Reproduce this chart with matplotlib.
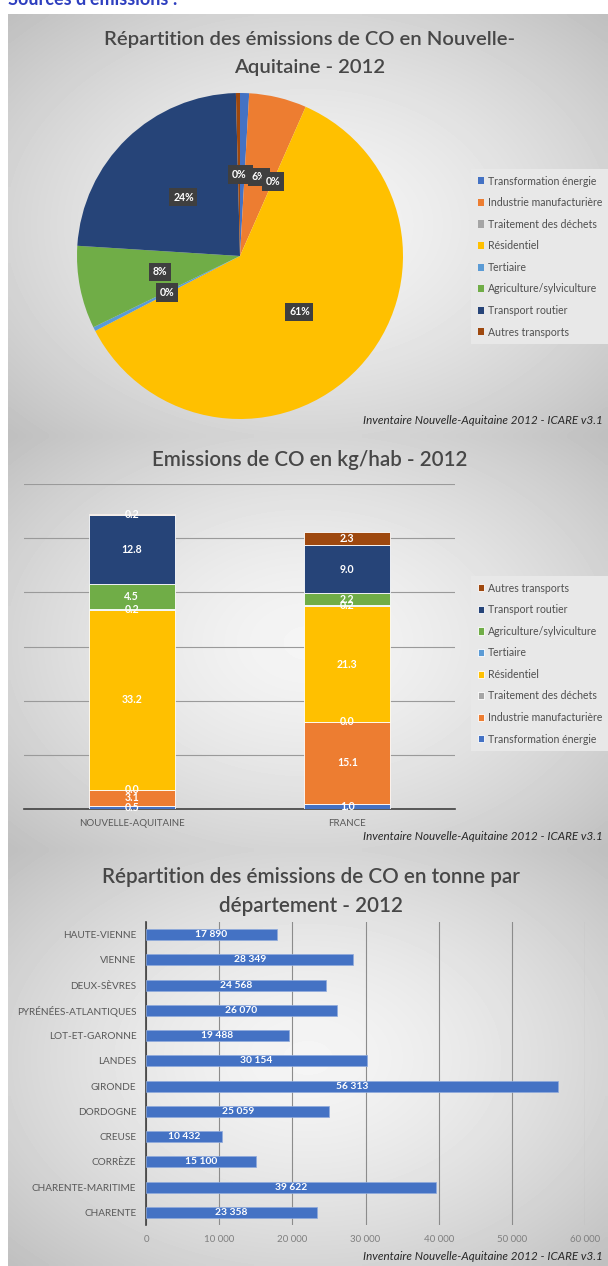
import numpy as np
import matplotlib
matplotlib.use("Agg")
import matplotlib.pyplot as plt

plt.rcParams['font.family'] = ['Lato', 'DejaVu Sans']

# --- data ---
sectors = ['Transformation énergie', 'Industrie manufacturière', 'Traitement des déchets',
           'Résidentiel', 'Tertiaire', 'Agriculture/sylviculture', 'Transport routier',
           'Autres transports']
colors = ['#4472C4', '#ED7D31', '#A5A5A5', '#FFC000', '#5B9BD5', '#70AD47', '#264478', '#9E480E']

# share of regional CO emissions (%), 2012
pie_share = [0.9, 5.7, 0.0, 60.8, 0.4, 8.2, 23.6, 0.4]

zones = ['NOUVELLE-AQUITAINE', 'FRANCE']
kg_hab_na = [0.5, 3.1, 0.0, 33.2, 0.2, 4.5, 12.8, 0.2]
kg_hab_fr = [1.0, 15.1, 0.0, 21.3, 0.2, 2.2, 9.0, 2.3]

departements = ['CHARENTE', 'CHARENTE-MARITIME', 'CORRÈZE', 'CREUSE', 'DORDOGNE', 'GIRONDE',
                'LANDES', 'LOT-ET-GARONNE', 'PYRÉNÉES-ATLANTIQUES', 'DEUX-SÈVRES', 'VIENNE',
                'HAUTE-VIENNE']
tonnes = [23358, 39622, 15100, 10432, 25059, 56313, 30154, 19488, 26070, 24568, 28349, 17890]

source = 'Inventaire Nouvelle-Aquitaine 2012 - ICARE v3.1'
grey_txt = '#595959'
title_col = '#474747'

W, H = 608, 1266
fig = plt.figure(figsize=(W / 100, H / 100), dpi=100)


def rect(x0, y0, x1, y1):
    return [x0 / W, 1 - y1 / H, (x1 - x0) / W, (y1 - y0) / H]


def fy(y):
    return 1 - y / H


def panel(y0, y1):
    ax = fig.add_axes(rect(8, y0, W, y1), zorder=0)
    yy, xx = np.mgrid[-1:1:120j, -1:1:120j]
    r = np.sqrt(xx ** 2 + yy ** 2) / np.sqrt(2)
    ax.imshow(0.96 - 0.21 * r ** 1.5, cmap='gray', vmin=0, vmax=1, aspect='auto',
              extent=(0, 1, 0, 1), interpolation='bilinear')
    ax.axis('off')


def legend(handles, labels, top):
    leg = fig.legend(handles, labels, loc='upper left', bbox_to_anchor=(466 / W, fy(top)),
                     bbox_transform=fig.transFigure, fontsize=7.6, labelcolor='#505050',
                     handlelength=0.65, handleheight=0.65, handletextpad=0.3, labelspacing=1.0,
                     borderpad=0.6, fancybox=False, framealpha=1, facecolor='#E8E8E8',
                     edgecolor='none')
    leg.set_zorder(3)
    return leg


panel(14, 436)
panel(436, 850)
panel(850, H)

fig.text(8 / W, fy(5), "Sources d'émissions :", color='#2E3FBF', fontsize=13,
         fontweight='bold', ha='left', va='baseline')

# ---------- pie ----------
fig.text(310 / W, fy(40), 'Répartition des émissions de CO en Nouvelle-', ha='center', va='center',
         fontsize=14.6, fontweight='semibold', color=title_col)
fig.text(310 / W, fy(68), 'Aquitaine - 2012', ha='center', va='center', fontsize=14.6,
         fontweight='semibold', color=title_col)

ax1 = fig.add_axes(rect(77, 93, 403, 419), zorder=2)
wedges, _, autotexts = ax1.pie(pie_share, colors=colors, startangle=90, counterclock=False,
                               radius=1, autopct=lambda p: f'{p:.0f}%', pctdistance=0.5,
                               wedgeprops=dict(linewidth=0))
for t in autotexts:
    t.set_color('white')
    t.set_fontsize(7.6)
    t.set_fontweight('bold')
    t.set_bbox(dict(boxstyle='square,pad=0.35', fc='#3F3F3F', ec='none'))
ax1.set_xlim(-1, 1)
ax1.set_ylim(-1, 1)
ax1.set_aspect('equal')

legend(wedges, sectors, 164)
fig.text(603 / W, fy(420), source, ha='right', va='center', fontsize=8.4, style='italic',
         color='#262626')

# ---------- stacked bars ----------
fig.text(310 / W, fy(460), 'Emissions de CO en kg/hab - 2012', ha='center', va='center',
         fontsize=14.8, fontweight='semibold', color=title_col)
ax2 = fig.add_axes(rect(24, 484, 455, 809), zorder=2)
ax2.set_facecolor('none')
x = np.arange(len(zones))
bottom = np.zeros(len(zones))
handles = []
for i, name in enumerate(sectors):
    vals = np.array([kg_hab_na[i], kg_hab_fr[i]])
    bars = ax2.bar(x, vals, width=0.4, bottom=bottom, color=colors[i], edgecolor='white',
                   linewidth=0.6, label=name, zorder=3)
    ax2.bar_label(bars, labels=[f'{v:.1f}' for v in vals], label_type='center', color='white',
                  fontsize=7.6, fontweight='bold', zorder=4)
    bottom += vals
    handles.append(bars)
ax2.set_xlim(-0.5, 1.5)
ax2.set_ylim(0, 60)
ax2.set_yticks(np.arange(0, 61, 10))
ax2.yaxis.grid(True, color='#9A9A9A', linewidth=0.8, zorder=0)
ax2.tick_params(axis='y', length=0, labelleft=False)
ax2.set_xticks(x)
ax2.set_xticklabels(zones, fontsize=7, color=grey_txt)
ax2.tick_params(axis='x', length=0, pad=7)
for s in ['top', 'right', 'left']:
    ax2.spines[s].set_visible(False)
ax2.spines['bottom'].set_color('#404040')
ax2.spines['bottom'].set_linewidth(1.2)

legend(handles[::-1], sectors[::-1], 571)
fig.text(603 / W, fy(836), source, ha='right', va='center', fontsize=8.4, style='italic',
         color='#262626')

# ---------- horizontal bars ----------
fig.text(311 / W, fy(877), 'Répartition des émissions de CO en tonne par', ha='center',
         va='center', fontsize=14.9, fontweight='semibold', color=title_col)
fig.text(311 / W, fy(906), 'département - 2012', ha='center', va='center', fontsize=14.9,
         fontweight='semibold', color=title_col)
ax3 = fig.add_axes(rect(146, 922, 585, 1225), zorder=2)
ax3.set_facecolor('none')
y = np.arange(len(departements))
hb = ax3.barh(y, tonnes, height=0.43, color='#4472C4', edgecolor='#8FAADC', linewidth=0.5, zorder=3)
ax3.bar_label(hb, labels=[f'{v:,}'.replace(',', ' ') for v in tonnes], label_type='center',
              color='white', fontsize=7.4, fontweight='bold', zorder=4)
ax3.set_xlim(0, 60000)
ax3.set_ylim(-0.5, len(departements) - 0.5)
ax3.set_yticks(y)
ax3.set_yticklabels(departements, fontsize=7.2, color=grey_txt)
xt = np.arange(0, 60001, 10000)
ax3.set_xticks(xt)
ax3.set_xticklabels([f'{v:,}'.replace(',', ' ') for v in xt], fontsize=7, color='#7F7F7F')
ax3.xaxis.grid(True, color='#8C8C8C', linewidth=0.8, zorder=0)
ax3.tick_params(axis='both', length=0)
ax3.tick_params(axis='y', pad=7)
ax3.tick_params(axis='x', pad=7)
for s in ['top', 'right', 'bottom']:
    ax3.spines[s].set_visible(False)
ax3.spines['left'].set_color('#404040')
ax3.spines['left'].set_linewidth(1.2)
fig.text(603 / W, fy(1257), source, ha='right', va='center', fontsize=8.4, style='italic',
         color='#262626')

fig.savefig('out.png', dpi=100)
